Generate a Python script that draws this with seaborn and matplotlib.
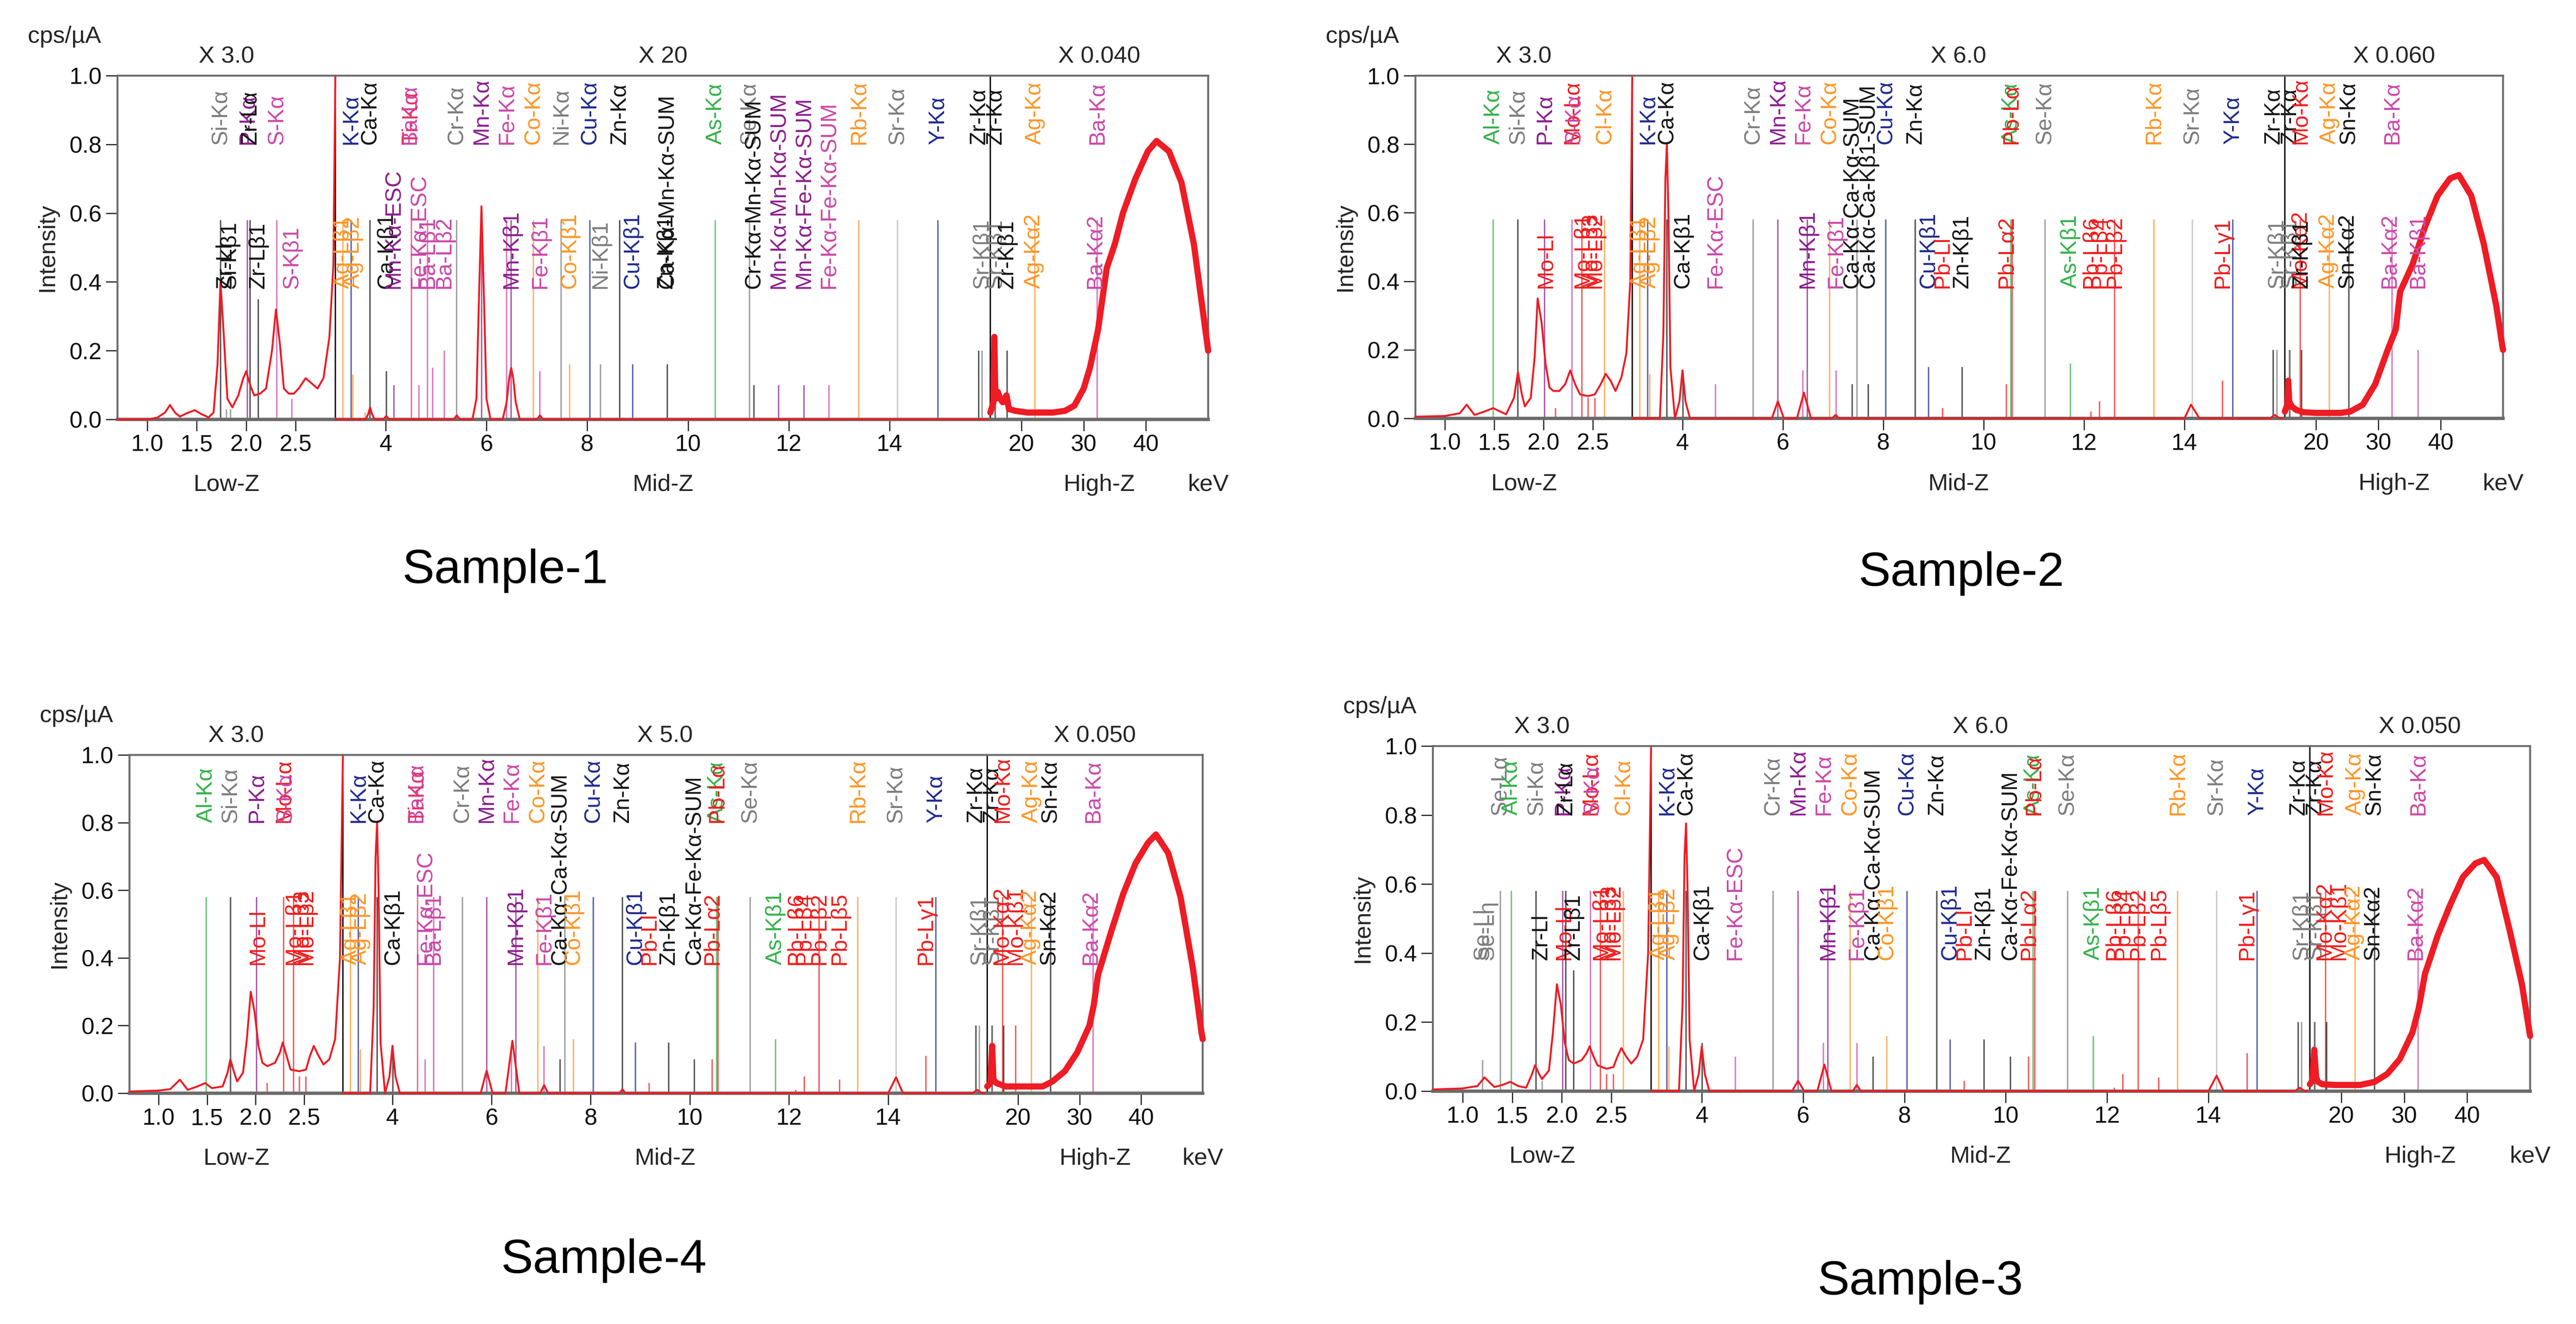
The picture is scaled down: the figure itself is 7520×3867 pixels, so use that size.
import numpy as np
import pandas as pd
import matplotlib
matplotlib.use("Agg")
import matplotlib.pyplot as plt
import seaborn as sns

# ------------------------------------------------------------------ DATA
SECTION_RANGES = [(0.7, 2.9), (3.0, 16.0), (15.0, 50.0)]
SECTION_TICKS = [[1.0, 1.5, 2.0, 2.5], [4, 6, 8, 10, 12, 14], [20, 30, 40]]
SECTION_TICKLABELS = [["1.0", "1.5", "2.0", "2.5"], ["4", "6", "8", "10", "12", "14"], ["20", "30", "40"]]
SECTION_NAMES = ["Low-Z", "Mid-Z", "High-Z"]
Y_TICKS = [0.0, 0.2, 0.4, 0.6, 0.8, 1.0]
Y_TICKLABELS = ["0.0", "0.2", "0.4", "0.6", "0.8", "1.0"]

# ---------------- Sample-1
S1_MULT = ["X 3.0", "X 20", "X 0.040"]
S1_LOW_E = [0.7, 1.0, 1.1, 1.18, 1.23, 1.28, 1.33, 1.40, 1.48, 1.55, 1.62, 1.67, 1.71, 1.74, 1.77, 1.81, 1.86,
            1.92, 1.97, 2.00, 2.04, 2.08, 2.14, 2.20, 2.26, 2.30, 2.34, 2.38, 2.43, 2.48, 2.53, 2.60, 2.66, 2.72,
            2.78, 2.84, 2.88, 2.90]
S1_LOW_I = [0.0, 0.0, 0.005, 0.02, 0.042, 0.02, 0.008, 0.018, 0.027, 0.015, 0.006, 0.02, 0.16, 0.40, 0.26, 0.06,
            0.035, 0.07, 0.12, 0.14, 0.10, 0.07, 0.075, 0.09, 0.20, 0.32, 0.22, 0.09, 0.075, 0.075, 0.09, 0.12,
            0.105, 0.09, 0.12, 0.24, 0.45, 1.0]
S1_MID_E = [3.0, 3.60, 3.65, 3.69, 3.73, 3.78, 3.95, 4.01, 4.07, 5.35, 5.41, 5.47, 5.72, 5.80, 5.85, 5.90, 5.95,
            6.00, 6.08, 6.32, 6.40, 6.45, 6.49, 6.53, 6.58, 6.66, 7.00, 7.06, 7.12, 16.0]
S1_MID_I = [0.0, 0.0, 0.015, 0.035, 0.015, 0.0, 0.0, 0.01, 0.0, 0.0, 0.012, 0.0, 0.0, 0.06, 0.35, 0.62, 0.35,
            0.06, 0.0, 0.0, 0.05, 0.12, 0.15, 0.12, 0.05, 0.0, 0.0, 0.012, 0.0, 0.0]
S1_HIGH_E = [15.0, 15.5, 15.65, 15.75, 15.85, 16.2, 16.6, 17.0, 17.6, 18.0, 19.0, 21.0, 23.0, 25.0, 27.0, 28.5,
             30.0, 31.0, 32.3, 33.7, 35.0, 36.3, 38.3, 40.3, 41.7, 43.7, 45.7, 47.7, 49.7, 50.0]
S1_HIGH_I = [0.02, 0.05, 0.24, 0.12, 0.06, 0.08, 0.06, 0.05, 0.07, 0.03, 0.025, 0.02, 0.02, 0.02, 0.025, 0.04,
             0.09, 0.15, 0.26, 0.44, 0.51, 0.60, 0.70, 0.78, 0.81, 0.78, 0.69, 0.51, 0.24, 0.20]
S1_LINES = [(1.74, 0.58, 'K'), (1.80, 0.03, 'A'), (1.84, 0.03, 'A'), (2.01, 0.58, 'P'), (2.04, 0.58, 'K'),
            (2.12, 0.35, 'K'), (2.31, 0.58, 'M'), (2.46, 0.06, 'M'),
            (3.15, 0.58, 'O'), (3.31, 0.58, 'B'), (3.35, 0.13, 'O'), (3.59, 0.02, 'O'), (3.69, 0.58, 'K'),
            (4.01, 0.14, 'K'), (4.16, 0.10, 'P'), (4.51, 0.58, 'T'), (4.66, 0.10, 'M'), (4.83, 0.58, 'M'),
            (4.93, 0.15, 'M'), (5.16, 0.20, 'M'), (5.41, 0.58, 'A'), (5.90, 0.58, 'P'), (6.40, 0.58, 'M'),
            (6.49, 0.58, 'P'), (6.93, 0.58, 'O'), (7.06, 0.14, 'M'), (7.48, 0.58, 'A'), (7.65, 0.16, 'O'),
            (8.05, 0.58, 'B'), (8.26, 0.16, 'A'), (8.64, 0.58, 'K'), (8.90, 0.16, 'B'), (9.59, 0.16, 'K'),
            (10.54, 0.58, 'G'), (11.22, 0.58, 'A'), (11.31, 0.10, 'K'), (11.80, 0.10, 'P'), (12.30, 0.10, 'P'),
            (12.80, 0.10, 'M'), (13.39, 0.58, 'O'), (14.16, 0.58, 'L'), (14.96, 0.58, 'B'), (15.77, 0.20, 'K'),
            (15.84, 0.20, 'A'),
            (17.67, 0.20, 'K'), (22.16, 0.58, 'O'), (32.19, 0.58, 'M')]
S1_LABELS = [(1.74, 'Si-Kα', 0, 'A'), (2.01, 'P-Kα', 0, 'P'), (2.04, 'Zr-Lα', 0, 'K'), (2.31, 'S-Kα', 0, 'M'),
             (1.79, 'Zr-Ll', 1, 'K'), (1.83, 'Si-Kβ1', 1, 'K'), (2.12, 'Zr-Lβ1', 1, 'K'), (2.46, 'S-Kβ1', 1, 'M'),
             (3.31, 'K-Kα', 0, 'B'), (3.69, 'Ca-Kα', 0, 'K'), (4.47, 'Ba-Lα', 0, 'M'), (4.51, 'Ti-Kα', 0, 'T'),
             (5.41, 'Cr-Kα', 0, 'A'), (5.90, 'Mn-Kα', 0, 'P'), (6.40, 'Fe-Kα', 0, 'M'), (6.93, 'Co-Kα', 0, 'O'),
             (7.48, 'Ni-Kα', 0, 'A'), (8.05, 'Cu-Kα', 0, 'B'), (8.64, 'Zn-Kα', 0, 'K'), (10.54, 'As-Kα', 0, 'G'),
             (11.22, 'Se-Kα', 0, 'A'), (13.39, 'Rb-Kα', 0, 'O'), (14.16, 'Sr-Kα', 0, 'A'), (14.96, 'Y-Kα', 0, 'B'),
             (15.77, 'Zr-Kα', 0, 'K'),
             (3.15, 'Ag-Lβ1', 1, 'O'), (3.35, 'Ag-Lβ2', 1, 'O'), (4.01, 'Ca-Kβ1', 1, 'K'),
             (4.16, 'Mn-Kα-ESC', 1, 'P'), (4.66, 'Fe-Kα-ESC', 1, 'M'), (4.83, 'Ba-Lβ1', 1, 'M'),
             (5.16, 'Ba-Lβ2', 1, 'M'), (6.49, 'Mn-Kβ1', 1, 'P'), (7.06, 'Fe-Kβ1', 1, 'M'), (7.65, 'Co-Kβ1', 1, 'O'),
             (8.26, 'Ni-Kβ1', 1, 'A'), (8.90, 'Cu-Kβ1', 1, 'B'), (9.57, 'Zn-Kβ1', 1, 'K'),
             (9.59, 'Ca-Kα-Mn-Kα-SUM', 1, 'K'), (11.31, 'Cr-Kα-Mn-Kα-SUM', 1, 'K'),
             (11.80, 'Mn-Kα-Mn-Kα-SUM', 1, 'P'), (12.30, 'Mn-Kα-Fe-Kα-SUM', 1, 'P'),
             (12.80, 'Fe-Kα-Fe-Kα-SUM', 1, 'M'), (15.84, 'Sr-Kβ1', 1, 'A'),
             (22.16, 'Ag-Kα', 0, 'O'), (32.19, 'Ba-Kα', 0, 'M'),
             (17.67, 'Zr-Kβ1', 1, 'K'), (21.99, 'Ag-Kα2', 1, 'O'), (31.82, 'Ba-Kα2', 1, 'M')]

# ---------------- Sample-2
S2_MULT = ["X 3.0", "X 6.0", "X 0.060"]
S2_LOW_E = [0.7, 1.0, 1.15, 1.22, 1.30, 1.40, 1.49, 1.56, 1.62, 1.70, 1.74, 1.78, 1.81, 1.87, 1.91, 1.94, 1.98,
            2.02, 2.06, 2.10, 2.16, 2.22, 2.27, 2.32, 2.37, 2.45, 2.52, 2.58, 2.63, 2.68, 2.73, 2.79, 2.84, 2.88,
            2.90]
S2_LOW_I = [0.005, 0.007, 0.015, 0.04, 0.01, 0.02, 0.03, 0.02, 0.012, 0.06, 0.135, 0.07, 0.035, 0.06, 0.18, 0.35,
            0.28, 0.16, 0.09, 0.08, 0.08, 0.10, 0.14, 0.10, 0.07, 0.065, 0.07, 0.10, 0.13, 0.11, 0.08, 0.12, 0.19,
            0.40, 1.0]
S2_MID_E = [3.0, 3.55, 3.62, 3.66, 3.69, 3.72, 3.76, 3.85, 3.94, 4.0, 4.06, 4.15, 5.78, 5.90, 6.02, 6.28, 6.42,
            6.56, 6.98, 7.05, 7.12, 14.0, 14.13, 14.3, 15.7, 15.8, 15.9, 16.0]
S2_MID_I = [0.0, 0.0, 0.25, 0.70, 0.80, 0.60, 0.15, 0.0, 0.05, 0.14, 0.05, 0.0, 0.0, 0.05, 0.0, 0.0, 0.075, 0.0,
            0.0, 0.01, 0.0, 0.0, 0.04, 0.0, 0.0, 0.01, 0.0, 0.0]
S2_HIGH_E = [15.0, 15.4, 15.55, 15.7, 16.1, 16.8, 18.0, 20.0, 22.0, 24.0, 25.5, 27.5, 29.5, 31.5, 32.8, 33.5,
             35.5, 37.5, 39.5, 41.5, 42.9, 44.9, 46.9, 48.9, 49.9, 50.0]
S2_HIGH_I = [0.02, 0.04, 0.11, 0.05, 0.035, 0.025, 0.018, 0.016, 0.016, 0.016, 0.02, 0.04, 0.10, 0.20, 0.26, 0.37,
             0.45, 0.56, 0.65, 0.70, 0.71, 0.65, 0.51, 0.33, 0.21, 0.20]
S2_LINES = [(1.49, 0.58, 'G'), (1.74, 0.58, 'K'), (2.01, 0.58, 'P'), (2.12, 0.03, 'R'), (2.29, 0.58, 'M'),
            (2.39, 0.58, 'R'), (2.45, 0.06, 'R'), (2.52, 0.06, 'R'), (2.62, 0.58, 'O'),
            (3.15, 0.58, 'O'), (3.31, 0.58, 'B'), (3.35, 0.13, 'O'), (3.69, 0.58, 'K'), (4.01, 0.14, 'K'),
            (4.66, 0.10, 'M'), (5.41, 0.58, 'A'), (5.90, 0.58, 'P'), (6.40, 0.14, 'M'), (6.49, 0.58, 'P'),
            (6.93, 0.58, 'O'), (7.06, 0.14, 'M'), (7.38, 0.10, 'K'), (7.48, 0.58, 'A'), (7.70, 0.10, 'K'),
            (8.05, 0.58, 'B'), (8.64, 0.58, 'K'), (8.90, 0.15, 'B'), (9.18, 0.03, 'R'), (9.57, 0.15, 'K'),
            (10.45, 0.10, 'R'), (10.54, 0.58, 'G'), (10.57, 0.58, 'R'), (11.22, 0.58, 'A'), (11.73, 0.16, 'G'),
            (12.14, 0.02, 'R'), (12.31, 0.05, 'R'), (12.61, 0.58, 'R'), (13.39, 0.58, 'O'), (14.16, 0.58, 'L'),
            (14.76, 0.11, 'R'), (14.96, 0.58, 'B'), (15.77, 0.20, 'K'), (15.84, 0.20, 'A'),
            (17.48, 0.58, 'R'), (17.67, 0.20, 'K'), (22.16, 0.58, 'O'), (25.27, 0.58, 'K'), (32.19, 0.58, 'M'),
            (36.38, 0.20, 'M')]
S2_LABELS = [(1.49, 'Al-Kα', 0, 'G'), (1.74, 'Si-Kα', 0, 'A'), (2.01, 'P-Kα', 0, 'P'), (2.29, 'Mo-Lα', 0, 'R'),
             (2.31, 'S-Kα', 0, 'M'), (2.62, 'Cl-Kα', 0, 'O'),
             (2.02, 'Mo-Ll', 1, 'R'), (2.395, 'Mo-Lβ1', 1, 'R'), (2.47, 'Mo-Lβ3', 1, 'R'), (2.52, 'Mo-Lβ2', 1, 'R'),
             (3.31, 'K-Kα', 0, 'B'), (3.69, 'Ca-Kα', 0, 'K'), (5.41, 'Cr-Kα', 0, 'A'), (5.90, 'Mn-Kα', 0, 'P'),
             (6.40, 'Fe-Kα', 0, 'M'), (6.93, 'Co-Kα', 0, 'O'), (8.05, 'Cu-Kα', 0, 'B'), (8.64, 'Zn-Kα', 0, 'K'),
             (10.54, 'As-Kα', 0, 'G'), (10.55, 'Pb-Lα', 0, 'R'), (11.22, 'Se-Kα', 0, 'A'), (13.39, 'Rb-Kα', 0, 'O'),
             (14.16, 'Sr-Kα', 0, 'A'), (14.96, 'Y-Kα', 0, 'B'), (15.77, 'Zr-Kα', 0, 'K'),
             (3.15, 'Ag-Lβ1', 1, 'O'), (3.35, 'Ag-Lβ2', 1, 'O'), (4.01, 'Ca-Kβ1', 1, 'K'),
             (4.66, 'Fe-Kα-ESC', 1, 'M'), (6.49, 'Mn-Kβ1', 1, 'P'), (7.06, 'Fe-Kβ1', 1, 'M'),
             (7.38, 'Ca-Kα-Ca-Kα-SUM', 1, 'K'), (7.70, 'Ca-Kα-Ca-Kβ1-SUM', 1, 'K'), (8.90, 'Cu-Kβ1', 1, 'B'),
             (9.18, 'Pb-Ll', 1, 'R'), (9.57, 'Zn-Kβ1', 1, 'K'), (10.45, 'Pb-Lα2', 1, 'R'),
             (11.73, 'As-Kβ1', 1, 'G'), (12.14, 'Pb-Lβ6', 1, 'R'), (12.31, 'Pb-Lβ4', 1, 'R'),
             (12.61, 'Pb-Lβ2', 1, 'R'), (14.76, 'Pb-Lγ1', 1, 'R'), (15.84, 'Sr-Kβ1', 1, 'A'),
             (17.48, 'Mo-Kα', 0, 'R'), (22.16, 'Ag-Kα', 0, 'O'), (25.27, 'Sn-Kα', 0, 'K'), (32.19, 'Ba-Kα', 0, 'M'),
             (17.37, 'Mo-Kα2', 1, 'R'), (17.67, 'Zr-Kβ1', 1, 'K'), (21.99, 'Ag-Kα2', 1, 'O'),
             (25.04, 'Sn-Kα2', 1, 'K'), (31.82, 'Ba-Kα2', 1, 'M'), (36.38, 'Ba-Kβ1', 1, 'M')]

# ---------------- Sample-4
S4_MULT = ["X 3.0", "X 5.0", "X 0.050"]
S4_LOW_E = [0.7, 1.0, 1.12, 1.22, 1.30, 1.40, 1.48, 1.55, 1.66, 1.71, 1.74, 1.78, 1.81, 1.87, 1.91, 1.95, 1.99,
            2.03, 2.07, 2.12, 2.20, 2.25, 2.28, 2.32, 2.36, 2.45, 2.52, 2.56, 2.60, 2.65, 2.70, 2.76, 2.82, 2.87,
            2.90]
S4_LOW_I = [0.005, 0.008, 0.012, 0.04, 0.01, 0.02, 0.03, 0.015, 0.02, 0.06, 0.10, 0.06, 0.035, 0.06, 0.16, 0.30,
            0.24, 0.14, 0.09, 0.08, 0.09, 0.12, 0.15, 0.11, 0.07, 0.065, 0.07, 0.11, 0.14, 0.11, 0.085, 0.10,
            0.16, 0.40, 1.0]
S4_MID_E = [3.0, 3.55, 3.62, 3.66, 3.69, 3.72, 3.76, 3.85, 3.94, 4.0, 4.06, 4.15, 5.78, 5.90, 6.02, 6.28, 6.42,
            6.56, 6.98, 7.06, 7.14, 8.58, 8.64, 8.70, 14.0, 14.16, 14.3, 15.7, 15.8, 15.9, 16.0]
S4_MID_I = [0.0, 0.0, 0.25, 0.70, 0.80, 0.60, 0.15, 0.0, 0.05, 0.14, 0.05, 0.0, 0.0, 0.067, 0.0, 0.0, 0.155, 0.0,
            0.0, 0.024, 0.0, 0.0, 0.012, 0.0, 0.0, 0.047, 0.0, 0.0, 0.01, 0.0, 0.0]
S4_HIGH_E = [15.0, 15.5, 15.8, 16.0, 16.5, 18.0, 20.0, 22.0, 24.0, 25.6, 27.6, 29.6, 31.6, 32.3, 33.0, 35.0, 37.1,
             39.1, 41.1, 42.4, 44.4, 46.4, 48.4, 49.8, 50.0]
S4_HIGH_I = [0.02, 0.03, 0.14, 0.04, 0.03, 0.02, 0.02, 0.02, 0.02, 0.035, 0.065, 0.12, 0.20, 0.26, 0.35, 0.47,
             0.59, 0.68, 0.74, 0.765, 0.71, 0.58, 0.37, 0.18, 0.16]
S4_LINES = [(1.49, 0.58, 'G'), (1.74, 0.58, 'K'), (2.01, 0.58, 'P'), (2.12, 0.03, 'R'), (2.29, 0.58, 'R'),
            (2.39, 0.58, 'R'), (2.45, 0.05, 'R'), (2.52, 0.05, 'R'),
            (3.15, 0.58, 'O'), (3.31, 0.58, 'B'), (3.35, 0.13, 'O'), (3.69, 0.58, 'K'), (4.01, 0.14, 'K'),
            (4.51, 0.58, 'T'), (4.66, 0.10, 'M'), (4.83, 0.58, 'M'), (5.41, 0.58, 'A'), (5.90, 0.58, 'P'),
            (6.40, 0.14, 'M'), (6.49, 0.58, 'P'), (6.93, 0.58, 'O'), (7.06, 0.14, 'M'), (7.38, 0.10, 'K'),
            (7.48, 0.58, 'A'), (7.65, 0.16, 'O'), (8.05, 0.58, 'B'), (8.64, 0.58, 'K'), (8.90, 0.15, 'B'),
            (9.18, 0.03, 'R'), (9.57, 0.15, 'K'), (10.09, 0.10, 'K'), (10.45, 0.10, 'R'), (10.54, 0.58, 'G'),
            (10.57, 0.58, 'R'), (11.22, 0.58, 'A'), (11.73, 0.16, 'G'), (12.14, 0.01, 'R'), (12.31, 0.05, 'R'),
            (12.61, 0.58, 'R'), (13.02, 0.04, 'R'), (13.39, 0.58, 'O'), (14.16, 0.58, 'L'), (14.76, 0.11, 'R'),
            (14.96, 0.58, 'B'), (15.77, 0.20, 'K'), (15.84, 0.20, 'A'),
            (17.48, 0.58, 'R'), (17.67, 0.20, 'K'), (19.61, 0.20, 'R'), (22.16, 0.58, 'O'), (25.27, 0.58, 'K'),
            (32.19, 0.58, 'M')]
S4_LABELS = [(1.49, 'Al-Kα', 0, 'G'), (1.74, 'Si-Kα', 0, 'A'), (2.01, 'P-Kα', 0, 'P'), (2.29, 'Mo-Lα', 0, 'R'),
             (2.31, 'S-Kα', 0, 'M'),
             (2.02, 'Mo-Ll', 1, 'R'), (2.395, 'Mo-Lβ1', 1, 'R'), (2.47, 'Mo-Lβ3', 1, 'R'), (2.52, 'Mo-Lβ2', 1, 'R'),
             (3.31, 'K-Kα', 0, 'B'), (3.69, 'Ca-Kα', 0, 'K'), (4.47, 'Ba-Lα', 0, 'M'), (4.51, 'Ti-Kα', 0, 'T'),
             (5.41, 'Cr-Kα', 0, 'A'), (5.90, 'Mn-Kα', 0, 'P'), (6.40, 'Fe-Kα', 0, 'M'), (6.93, 'Co-Kα', 0, 'O'),
             (8.05, 'Cu-Kα', 0, 'B'), (8.64, 'Zn-Kα', 0, 'K'), (10.54, 'As-Kα', 0, 'G'), (10.55, 'Pb-Lα', 0, 'R'),
             (11.22, 'Se-Kα', 0, 'A'), (13.39, 'Rb-Kα', 0, 'O'), (14.16, 'Sr-Kα', 0, 'A'), (14.96, 'Y-Kα', 0, 'B'),
             (15.77, 'Zr-Kα', 0, 'K'),
             (3.15, 'Ag-Lβ1', 1, 'O'), (3.35, 'Ag-Lβ2', 1, 'O'), (4.01, 'Ca-Kβ1', 1, 'K'),
             (4.66, 'Fe-Kα-ESC', 1, 'M'), (4.83, 'Ba-Lβ1', 1, 'M'), (6.49, 'Mn-Kβ1', 1, 'P'),
             (7.06, 'Fe-Kβ1', 1, 'M'), (7.38, 'Ca-Kα-Ca-Kα-SUM', 1, 'K'), (7.65, 'Co-Kβ1', 1, 'O'),
             (8.90, 'Cu-Kβ1', 1, 'B'), (9.18, 'Pb-Ll', 1, 'R'), (9.57, 'Zn-Kβ1', 1, 'K'),
             (10.09, 'Ca-Kα-Fe-Kα-SUM', 1, 'K'), (10.45, 'Pb-Lα2', 1, 'R'), (11.73, 'As-Kβ1', 1, 'G'),
             (12.14, 'Pb-Lβ6', 1, 'R'), (12.31, 'Pb-Lβ4', 1, 'R'), (12.61, 'Pb-Lβ2', 1, 'R'),
             (13.02, 'Pb-Lβ5', 1, 'R'), (14.76, 'Pb-Lγ1', 1, 'R'), (15.84, 'Sr-Kβ1', 1, 'A'),
             (17.48, 'Mo-Kα', 0, 'R'), (22.16, 'Ag-Kα', 0, 'O'), (25.27, 'Sn-Kα', 0, 'K'), (32.19, 'Ba-Kα', 0, 'M'),
             (17.37, 'Mo-Kα2', 1, 'R'), (19.61, 'Mo-Kβ1', 1, 'R'), (21.99, 'Ag-Kα2', 1, 'O'),
             (25.04, 'Sn-Kα2', 1, 'K'), (31.82, 'Ba-Kα2', 1, 'M')]

# ---------------- Sample-3
S3_MULT = ["X 3.0", "X 6.0", "X 0.050"]
S3_LOW_E = [0.7, 1.0, 1.15, 1.22, 1.32, 1.40, 1.48, 1.56, 1.64, 1.70, 1.73, 1.77, 1.80, 1.87, 1.91, 1.95, 1.99,
            2.03, 2.07, 2.12, 2.20, 2.25, 2.28, 2.32, 2.36, 2.45, 2.52, 2.56, 2.60, 2.65, 2.70, 2.76, 2.82, 2.87,
            2.90]
S3_LOW_I = [0.005, 0.008, 0.015, 0.04, 0.012, 0.018, 0.027, 0.015, 0.01, 0.05, 0.075, 0.05, 0.035, 0.06, 0.17,
            0.31, 0.25, 0.14, 0.09, 0.08, 0.09, 0.11, 0.13, 0.10, 0.075, 0.065, 0.07, 0.10, 0.125, 0.10, 0.08,
            0.10, 0.15, 0.40, 1.0]
S3_MID_E = [3.0, 3.55, 3.62, 3.66, 3.69, 3.72, 3.76, 3.85, 3.94, 4.0, 4.06, 4.15, 5.78, 5.90, 6.02, 6.28, 6.42,
            6.56, 6.98, 7.06, 7.14, 14.0, 14.16, 14.3, 15.7, 15.8, 15.9, 16.0]
S3_MID_I = [0.0, 0.0, 0.25, 0.68, 0.776, 0.58, 0.15, 0.0, 0.05, 0.13, 0.05, 0.0, 0.0, 0.03, 0.0, 0.0, 0.077, 0.0,
            0.0, 0.018, 0.0, 0.0, 0.045, 0.0, 0.0, 0.01, 0.0, 0.0]
S3_HIGH_E = [15.0, 15.4, 15.7, 16.0, 16.3, 17.0, 19.0, 21.0, 23.0, 25.3, 27.3, 29.3, 31.3, 32.3, 33.3, 35.3, 37.3,
             39.3, 41.3, 42.7, 44.7, 46.7, 48.7, 50.0]
S3_HIGH_I = [0.02, 0.03, 0.12, 0.04, 0.027, 0.02, 0.018, 0.018, 0.018, 0.027, 0.05, 0.093, 0.17, 0.24, 0.34,
             0.45, 0.54, 0.62, 0.66, 0.67, 0.62, 0.47, 0.31, 0.16]
S3_LINES = [(1.20, 0.09, 'A'), (1.38, 0.58, 'A'), (1.49, 0.58, 'G'), (1.74, 0.58, 'K'), (1.80, 0.03, 'A'),
            (2.01, 0.58, 'P'), (2.04, 0.58, 'K'), (2.12, 0.35, 'K'), (2.29, 0.58, 'M'), (2.39, 0.58, 'R'),
            (2.45, 0.05, 'R'), (2.52, 0.05, 'R'), (2.62, 0.58, 'O'),
            (3.15, 0.58, 'O'), (3.31, 0.58, 'B'), (3.35, 0.13, 'O'), (3.69, 0.58, 'K'), (4.01, 0.14, 'K'),
            (4.66, 0.10, 'M'), (5.41, 0.58, 'A'), (5.90, 0.58, 'P'), (6.40, 0.14, 'M'), (6.49, 0.58, 'P'),
            (6.93, 0.58, 'O'), (7.06, 0.14, 'M'), (7.38, 0.10, 'K'), (7.65, 0.16, 'O'), (8.05, 0.58, 'B'),
            (8.64, 0.58, 'K'), (8.90, 0.15, 'B'), (9.18, 0.03, 'R'), (9.57, 0.15, 'K'), (10.09, 0.10, 'K'),
            (10.45, 0.10, 'R'), (10.54, 0.58, 'G'), (10.57, 0.58, 'R'), (11.22, 0.58, 'A'), (11.73, 0.16, 'G'),
            (12.14, 0.01, 'R'), (12.31, 0.05, 'R'), (12.61, 0.58, 'R'), (13.02, 0.04, 'R'), (13.39, 0.58, 'O'),
            (14.16, 0.58, 'L'), (14.76, 0.11, 'R'), (14.96, 0.58, 'B'), (15.77, 0.20, 'K'), (15.84, 0.20, 'A'),
            (17.48, 0.58, 'R'), (17.67, 0.20, 'K'), (22.16, 0.58, 'O'), (25.27, 0.58, 'K'), (32.19, 0.58, 'M')]
S3_LABELS = [(1.38, 'Se-Lα', 0, 'A'), (1.49, 'Al-Kα', 0, 'G'), (1.74, 'Si-Kα', 0, 'A'), (2.01, 'P-Kα', 0, 'P'),
             (2.04, 'Zr-Lα', 0, 'K'), (2.29, 'Mo-Lα', 0, 'R'), (2.31, 'S-Kα', 0, 'M'), (2.62, 'Cl-Kα', 0, 'O'),
             (1.20, 'Se-Ll', 1, 'A'), (1.25, 'Se-Lη', 1, 'A'), (1.79, 'Zr-Ll', 1, 'K'), (2.02, 'Mo-Ll', 1, 'R'),
             (2.12, 'Zr-Lβ1', 1, 'K'), (2.395, 'Mo-Lβ1', 1, 'R'), (2.47, 'Mo-Lβ3', 1, 'R'),
             (2.52, 'Mo-Lβ2', 1, 'R'),
             (3.31, 'K-Kα', 0, 'B'), (3.69, 'Ca-Kα', 0, 'K'), (5.41, 'Cr-Kα', 0, 'A'), (5.90, 'Mn-Kα', 0, 'P'),
             (6.40, 'Fe-Kα', 0, 'M'), (6.93, 'Co-Kα', 0, 'O'), (8.05, 'Cu-Kα', 0, 'B'), (8.64, 'Zn-Kα', 0, 'K'),
             (10.54, 'As-Kα', 0, 'G'), (10.55, 'Pb-Lα', 0, 'R'), (11.22, 'Se-Kα', 0, 'A'), (13.39, 'Rb-Kα', 0, 'O'),
             (14.16, 'Sr-Kα', 0, 'A'), (14.96, 'Y-Kα', 0, 'B'), (15.77, 'Zr-Kα', 0, 'K'),
             (3.15, 'Ag-Lβ1', 1, 'O'), (3.35, 'Ag-Lβ2', 1, 'O'), (4.01, 'Ca-Kβ1', 1, 'K'),
             (4.66, 'Fe-Kα-ESC', 1, 'M'), (6.49, 'Mn-Kβ1', 1, 'P'), (7.06, 'Fe-Kβ1', 1, 'M'),
             (7.38, 'Ca-Kα-Ca-Kα-SUM', 1, 'K'), (7.65, 'Co-Kβ1', 1, 'O'), (8.90, 'Cu-Kβ1', 1, 'B'),
             (9.18, 'Pb-Ll', 1, 'R'), (9.57, 'Zn-Kβ1', 1, 'K'), (10.09, 'Ca-Kα-Fe-Kα-SUM', 1, 'K'),
             (10.45, 'Pb-Lα2', 1, 'R'), (11.73, 'As-Kβ1', 1, 'G'), (12.14, 'Pb-Lβ6', 1, 'R'),
             (12.31, 'Pb-Lβ4', 1, 'R'), (12.61, 'Pb-Lβ2', 1, 'R'), (13.02, 'Pb-Lβ5', 1, 'R'),
             (14.76, 'Pb-Lγ1', 1, 'R'), (15.84, 'Sr-Kβ1', 1, 'A'),
             (17.48, 'Mo-Kα', 0, 'R'), (22.16, 'Ag-Kα', 0, 'O'), (25.27, 'Sn-Kα', 0, 'K'), (32.19, 'Ba-Kα', 0, 'M'),
             (17.37, 'Mo-Kα2', 1, 'R'), (19.61, 'Mo-Kβ1', 1, 'R'), (21.99, 'Ag-Kα2', 1, 'O'),
             (25.04, 'Sn-Kα2', 1, 'K'), (31.82, 'Ba-Kα2', 1, 'M')]

SAMPLE_NAMES = ["Sample-1", "Sample-2", "Sample-4", "Sample-3"]

# ------------------------------------------------------------------ STYLE / LAYOUT
sns.set_theme(style="ticks")
plt.rcParams['font.family'] = ['Liberation Sans', 'DejaVu Sans']

W, H, DPI = 7520, 3867, 100
PX = 72.0 / DPI  # px -> points

COL = {'K': '#161616', 'A': '#7d7d7d', 'L': '#b8b8b8', 'G': '#35b24a', 'P': '#8b1f8e', 'M': '#cc48aa',
       'O': '#ff9628', 'B': '#1f2b8e', 'R': '#f01e1e', 'T': '#e8366f'}
CURVE_COL = '#ee1c24'
CURVE_LW = [4.0, 4.0, 13.0]
FRAME_COL = '#6b6b6b'
ROW_Y = [0.80, 0.38]
LABEL_FS = 47
TICK_FS = 49
TEXT_FS = 50
SAMPLE_FS = 101

# panel boxes in pixels: left, split1, split2, right, top, bottom
BOXES = [(343, 979, 2891, 3527, 221, 1225),
         (4132, 4765, 6670, 7307, 221, 1222),
         (378, 1001, 2882, 3511, 2205, 3193),
         (4183, 4820, 6743, 7386, 2179, 3187)]
SAMPLE_XY = [(1475, 1667), (5726, 1675), (1763, 3682), (5606, 3745)]

PANELS = [
    dict(mult=S1_MULT, curves=[(S1_LOW_E, S1_LOW_I), (S1_MID_E, S1_MID_I), (S1_HIGH_E, S1_HIGH_I)],
         lines=S1_LINES, labels=S1_LABELS),
    dict(mult=S2_MULT, curves=[(S2_LOW_E, S2_LOW_I), (S2_MID_E, S2_MID_I), (S2_HIGH_E, S2_HIGH_I)],
         lines=S2_LINES, labels=S2_LABELS),
    dict(mult=S4_MULT, curves=[(S4_LOW_E, S4_LOW_I), (S4_MID_E, S4_MID_I), (S4_HIGH_E, S4_HIGH_I)],
         lines=S4_LINES, labels=S4_LABELS),
    dict(mult=S3_MULT, curves=[(S3_LOW_E, S3_LOW_I), (S3_MID_E, S3_MID_I), (S3_HIGH_E, S3_HIGH_I)],
         lines=S3_LINES, labels=S3_LABELS),
]

fig = plt.figure(figsize=(W / DPI, H / DPI), dpi=DPI)
fig.patch.set_facecolor('white')

for P, box, name, sxy in zip(PANELS, BOXES, SAMPLE_NAMES, SAMPLE_XY):
    left, s1, s2, right, top, bottom = box
    edges = [left, s1, s2, right]
    lines_df = pd.DataFrame(P['lines'], columns=['keV', 'h', 'c'])
    labels_df = pd.DataFrame(P['labels'], columns=['keV', 'text', 'row', 'c'])
    for i in range(3):
        ax = fig.add_axes([edges[i] / W, 1 - bottom / H, (edges[i + 1] - edges[i]) / W, (bottom - top) / H])
        ax.set_facecolor('none')
        lo, hi = SECTION_RANGES[i]
        ax.set_xlim(lo, hi)
        ax.set_ylim(0, 1)

        sub = lines_df[(lines_df.keV >= lo) & (lines_df.keV <= hi)]
        ax.vlines(sub.keV, 0, sub.h, colors=[COL[c] for c in sub.c], lw=3.0, alpha=0.72, zorder=2)

        cx, cy = P['curves'][i]
        cdf = pd.DataFrame({'keV': cx, 'Intensity': cy})
        sns.lineplot(data=cdf, x='keV', y='Intensity', ax=ax, color=CURVE_COL, lw=CURVE_LW[i],
                     sort=False, estimator=None, zorder=4, clip_on=False, solid_joinstyle='round')
        ax.set_xlabel('')
        ax.set_ylabel('')

        lsub = labels_df[(labels_df.keV >= lo) & (labels_df.keV <= hi)]
        for _, r in lsub.iterrows():
            ax.text(r.keV, ROW_Y[int(r.row)], r.text, rotation=90, ha='center', va='bottom',
                    color=COL[r.c], fontsize=LABEL_FS, zorder=5)

        # spines
        for s in ['top', 'bottom', 'left', 'right']:
            ax.spines[s].set_color(FRAME_COL)
            ax.spines[s].set_linewidth(4)
        ax.spines['bottom'].set_linewidth(7)
        if i > 0:
            ax.spines['left'].set_visible(False)
        if i < 2:
            ax.spines['right'].set_color('#111111')
            ax.spines['right'].set_linewidth(3)

        ax.set_xticks(SECTION_TICKS[i])
        ax.set_xticklabels(SECTION_TICKLABELS[i])
        ax.tick_params(axis='x', bottom=True, top=False, direction='out', length=34 * PX, width=2.5,
                       color='#222222', labelsize=TICK_FS, pad=8 * PX, labelcolor='#111111')
        if i == 0:
            ax.set_yticks(Y_TICKS)
            ax.set_yticklabels(Y_TICKLABELS)
            ax.tick_params(axis='y', left=True, right=False, direction='out', length=34 * PX, width=2.5,
                           color='#222222', labelsize=TICK_FS, pad=12 * PX, labelcolor='#111111')
            ax.annotate('cps/µA', xy=(0, 1), xycoords='axes fraction', xytext=(-155 * PX, 114 * PX),
                        textcoords='offset points', ha='center', va='center', fontsize=TEXT_FS)
            ax.annotate('Intensity', xy=(0, 0.5), xycoords='axes fraction', xytext=(-205 * PX, 0),
                        textcoords='offset points', ha='center', va='center', rotation=90, fontsize=TEXT_FS)
        else:
            ax.set_yticks([])
        ax.annotate(P['mult'][i], xy=(0.5, 1), xycoords='axes fraction', xytext=(0, 56 * PX),
                    textcoords='offset points', ha='center', va='center', fontsize=TEXT_FS)
        ax.annotate(SECTION_NAMES[i], xy=(0.5, 0), xycoords='axes fraction', xytext=(0, -191 * PX),
                    textcoords='offset points', ha='center', va='center', fontsize=TEXT_FS)
        if i == 2:
            ax.annotate('keV', xy=(1.0, 0), xycoords='axes fraction', xytext=(0, -191 * PX),
                        textcoords='offset points', ha='center', va='center', fontsize=TEXT_FS)

    fig.text(sxy[0] / W, 1 - sxy[1] / H, name, ha='center', va='center', fontsize=SAMPLE_FS, color='black')

fig.savefig('out.png', dpi=DPI, facecolor='white')
